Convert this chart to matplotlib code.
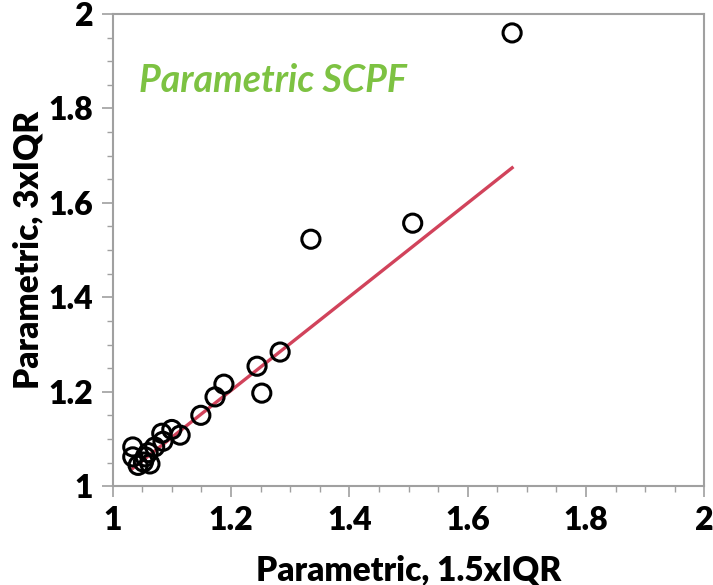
import numpy as np
import matplotlib.pyplot as plt
from matplotlib.ticker import MultipleLocator

# values
x_15iqr = [1.675, 1.335, 1.507, 1.283, 1.244, 1.252, 1.188, 1.173, 1.149,
           1.100, 1.114, 1.083, 1.085, 1.071, 1.060, 1.034, 1.034, 1.052,
           1.063, 1.043, 1.055]
y_3iqr = [1.960, 1.523, 1.557, 1.284, 1.254, 1.197, 1.216, 1.189, 1.150,
          1.120, 1.108, 1.112, 1.095, 1.083, 1.071, 1.083, 1.062, 1.051,
          1.047, 1.044, 1.062]
fit_slope = 0.993
fit_intercept = 0.011

plt.rcParams['font.family'] = ['Lato', 'DejaVu Sans']

fig = plt.figure(figsize=(7.13, 5.85), dpi=100)
ax = fig.add_axes([0.158, 0.169, 0.830, 0.807])

xs = np.array([min(x_15iqr), max(x_15iqr)])
ax.plot(xs, fit_intercept + fit_slope * xs, color='#d1435b', lw=2.4, zorder=2)
ax.scatter(x_15iqr, y_3iqr, s=170, facecolors='none', edgecolors='black',
           linewidths=2.2, zorder=3)

ax.set_xlim(1, 2)
ax.set_ylim(1, 2)
ax.xaxis.set_major_locator(MultipleLocator(0.2))
ax.yaxis.set_major_locator(MultipleLocator(0.2))
ax.xaxis.set_minor_locator(MultipleLocator(0.05))
ax.yaxis.set_minor_locator(MultipleLocator(0.05))
ax.set_xticklabels([f'{v:g}' for v in ax.get_xticks()])
ax.set_yticklabels([f'{v:g}' for v in ax.get_yticks()])

for sp in ax.spines.values():
    sp.set_color('#a0a0a0')
    sp.set_linewidth(1.5)
ax.tick_params(which='major', direction='out', length=8, width=1.2,
               color='#a0a0a0', labelsize=23, pad=6)
ax.tick_params(which='minor', direction='out', length=4, width=1,
               color='#a0a0a0')
for lab in ax.get_xticklabels() + ax.get_yticklabels():
    lab.set_fontweight('heavy')

ax.set_xlabel('Parametric, 1.5xIQR', fontsize=24, fontweight='heavy', labelpad=14)
ax.set_ylabel('Parametric, 3xIQR', fontsize=24, fontweight='heavy', labelpad=3)

ax.text(0.045, 0.86, 'Parametric SCPF', transform=ax.transAxes,
        fontsize=27, fontweight='bold', style='italic', color='#7dc242',
        va='center', ha='left')

fig.savefig('out.png', dpi=100)
